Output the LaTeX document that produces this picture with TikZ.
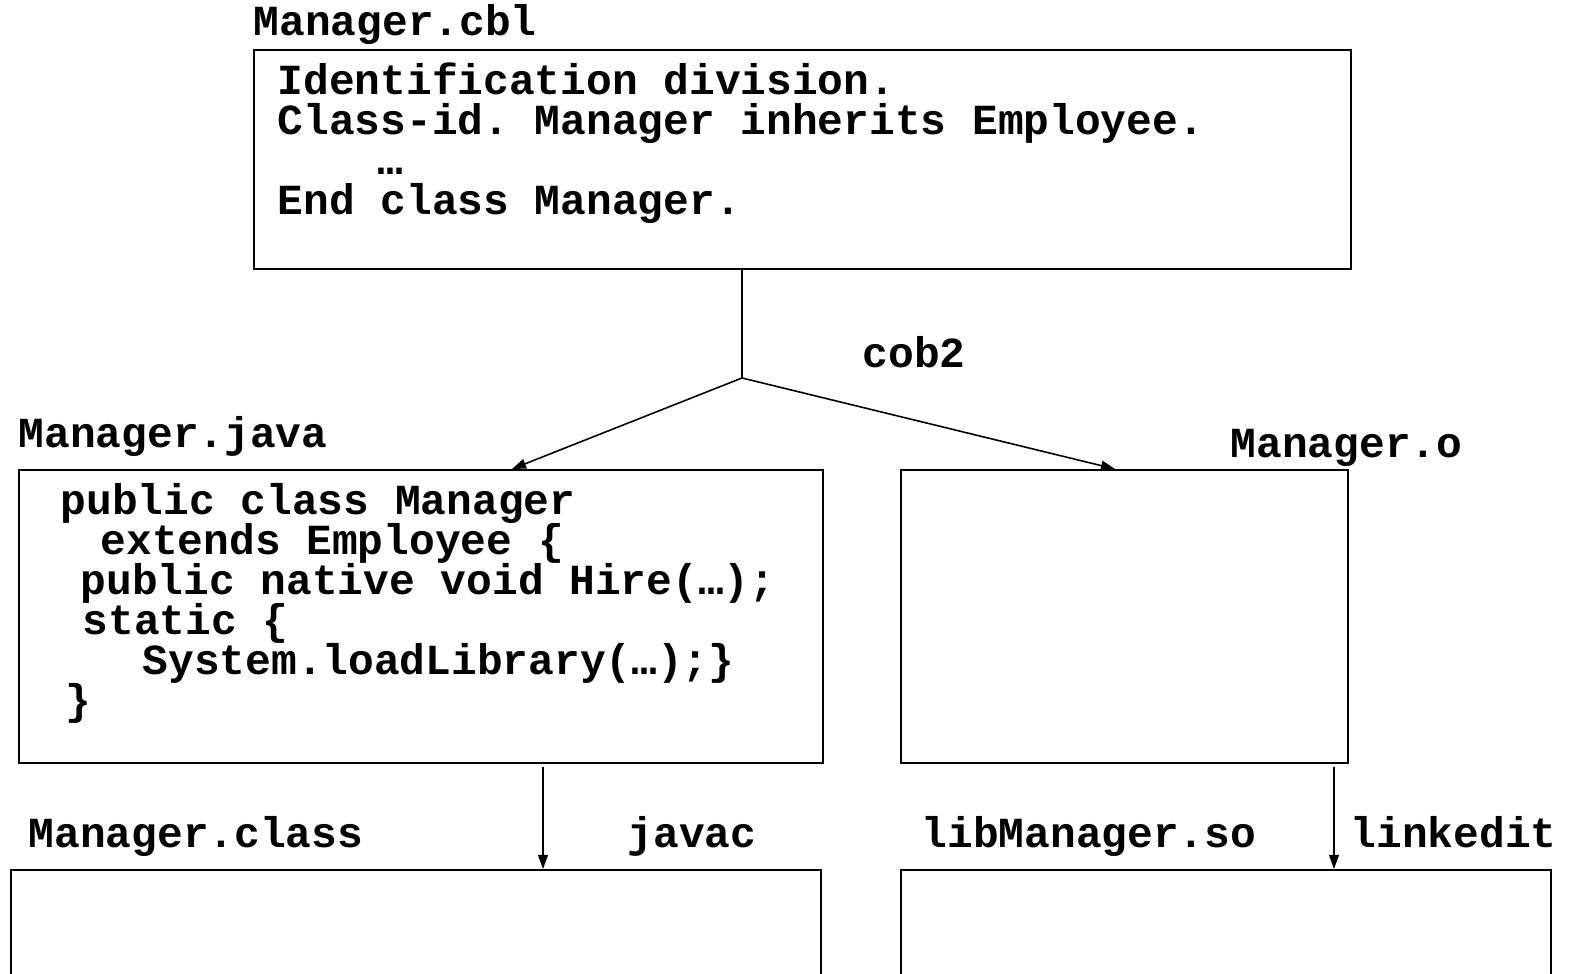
\documentclass[tikz,border=0pt]{standalone}
\usepackage{fontspec}
\setmonofont{Liberation Mono}
\usetikzlibrary{arrows.meta,positioning}
\setlength{\lineskiplimit}{-10pt}

\begin{document}
\begin{tikzpicture}[
    filebox/.style={rectangle,draw,line width=0.65pt,inner sep=0pt,anchor=north west},
    code/.style={align=left,anchor=base west,inner sep=0pt,
      font=\ttfamily\bfseries\fontsize{12.2}{11.4}\selectfont},
    fname/.style={anchor=base west,inner sep=0pt,font=\ttfamily\bfseries\fontsize{12.2}{14}\selectfont},
    arr/.style={-{Triangle[length=4pt,width=2.8pt]},line width=0.45pt}
  ]
  \clip (0,0) rectangle (15.72,-9.74);

  %% file boxes
  \node[filebox,minimum width=10.97cm,minimum height=2.19cm] (cbl)   at (2.53,-0.49) {};
  \node[filebox,minimum width=8.04cm,minimum height=2.93cm]  (java)  at (0.18,-4.69) {};
  \node[filebox,minimum width=4.47cm,minimum height=2.93cm]  (obj)   at (9.00,-4.69) {};
  \node[filebox,minimum width=8.10cm,minimum height=2cm]     (class) at (0.10,-8.69) {};
  \node[filebox,minimum width=6.50cm,minimum height=2cm]     (lib)   at (9.00,-8.69) {};

  %% file names
  \node[fname] (cblname)   at (2.53,-0.36) {Manager.cbl};
  \node[fname] (javaname)  at (0.18,-4.48) {Manager.java};
  \node[fname] (objname)   at (12.30,-4.58) {Manager.o};
  \node[fname] (classname) at (0.28,-8.48) {Manager.class};
  \node[fname] (libname)   at (9.21,-8.48) {libManager.so};

  %% source text (base = last line)
  \node[code] (cbltext) at (2.77,-2.15) {Identification division.\\
    Class-id. Manager inherits Employee.\\
    \hspace*{1cm}…\\
    End class Manager.};
  \node[code] (javatext) at (0.60,-7.15) {public class Manager\\
    \hspace*{0.4cm}extends Employee \{\\
    \hspace*{0.2cm}public native void Hire(…);\\
    \hspace*{0.22cm}static \{\\
    \hspace*{0.82cm}System.loadLibrary(…);\}\\
    \hspace*{0.05cm}\}};

  %% tools
  \node[fname] (cob2)     at (8.62,-3.68) {cob2};
  \node[fname] (javac)    at (6.27,-8.48) {javac};
  \node[fname] (linkedit) at (13.50,-8.48) {linkedit};

  %% connectors
  \coordinate (split)   at (7.42,-3.78);
  \coordinate (javain)  at (5.12,-4.69);
  \coordinate (objin)   at (11.15,-4.69);
  \coordinate (javaout) at (5.43,-7.67);
  \coordinate (objout)  at (13.34,-7.67);

  \draw[line width=0.45pt] (cbl.south -| split) -- (split);
  \draw[arr] (split) -- (javain);
  \draw[arr] (split) -- (objin);
  \draw[arr] (javaout) -- (class.north -| javaout);
  \draw[arr] (objout) -- (lib.north -| objout);
\end{tikzpicture}
\end{document}
